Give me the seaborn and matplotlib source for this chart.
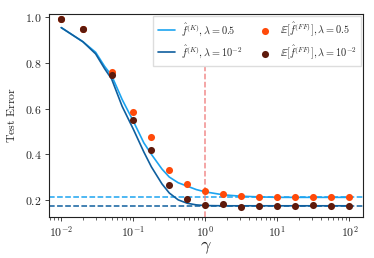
import numpy as np
import pandas as pd
import matplotlib
matplotlib.use("Agg")
import matplotlib.pyplot as plt
import seaborn as sns

# kernel curves
curve_gamma = [0.01, 0.02, 0.03, 0.04, 0.05, 0.07, 0.1, 0.14, 0.178, 0.25, 0.316,
               0.42, 0.562, 0.75, 1.0, 1.78, 3.16, 5.62, 10.0, 31.6, 100.0]
curve_lam05 = [0.955, 0.893, 0.847, 0.785, 0.745, 0.64, 0.545, 0.45, 0.40, 0.335, 0.30,
               0.275, 0.26, 0.245, 0.235, 0.222, 0.216, 0.213, 0.211, 0.211, 0.211]
curve_lam001 = [0.955, 0.893, 0.840, 0.775, 0.730, 0.61, 0.51, 0.41, 0.345, 0.27, 0.23,
                0.20, 0.185, 0.178, 0.175, 0.174, 0.174, 0.174, 0.174, 0.174, 0.174]

# random feature estimates
pts_gamma = [0.01, 0.02, 0.05, 0.1, 0.178, 0.316, 0.562, 1.0, 1.78, 3.16,
             5.62, 10.0, 17.8, 31.6, 56.2, 100.0]
pts_lam05 = [0.991, 0.949, 0.760, 0.586, 0.475, 0.332, 0.269, 0.237, 0.226, 0.218,
             0.212, 0.211, 0.211, 0.211, 0.211, 0.211]
pts_lam001 = [0.991, 0.949, 0.748, 0.550, 0.418, 0.265, 0.204, 0.178, 0.181, 0.168,
              0.172, 0.172, 0.174, 0.177, 0.174, 0.174]

limit_lam05 = 0.211
limit_lam001 = 0.174

c_light = "#1ca4f0"
c_dark = "#0f5f9e"
c_orange = "#ff4a0a"
c_brown = "#5e1a0c"

sns.set_style("ticks")
plt.rcParams["mathtext.fontset"] = "cm"
plt.rcParams["font.family"] = ["DejaVu Serif"]

fig = plt.figure(figsize=(3.74, 2.58), dpi=100)
ax = fig.add_axes([0.131, 0.159, 0.84, 0.787])

curves = pd.DataFrame({"gamma": curve_gamma, "l05": curve_lam05, "l001": curve_lam001})
pts = pd.DataFrame({"gamma": pts_gamma, "l05": pts_lam05, "l001": pts_lam001})

ax.axhline(limit_lam05, color=c_light, ls="--", lw=1.1)
ax.axhline(limit_lam001, color=c_dark, ls="--", lw=1.1)
ax.axvline(1.0, color="#f08080", ls="--", lw=1.1, alpha=0.9)

sns.lineplot(data=curves, x="gamma", y="l05", color=c_light, lw=1.2, ax=ax,
             label=r"$\hat{f}^{(K)}, \lambda = 0.5$")
sns.lineplot(data=curves, x="gamma", y="l001", color=c_dark, lw=1.2, ax=ax,
             label=r"$\hat{f}^{(K)}, \lambda = 10^{-2}$")
sns.scatterplot(data=pts, x="gamma", y="l05", color=c_orange, s=26, linewidth=0, ax=ax,
                label=r"$\mathbb{E}[\hat{f}^{(FF)}], \lambda = 0.5$", zorder=3)
sns.scatterplot(data=pts, x="gamma", y="l001", color=c_brown, s=26, linewidth=0, ax=ax,
                label=r"$\mathbb{E}[\hat{f}^{(FF)}], \lambda = 10^{-2}$", zorder=3)

ax.set_xscale("log")
ax.set_xlim(10 ** -2.17, 10 ** 2.19)
ax.set_ylim(0.125, 1.015)

xt = [0.01, 0.1, 1, 10, 100]
ax.set_xticks(xt, [r"$10^{-2}$", r"$10^{-1}$", r"$10^{0}$", r"$10^{1}$", r"$10^{2}$"])
yt = [0.2, 0.4, 0.6, 0.8, 1.0]
ax.set_yticks(yt, [f"${v:.1f}$" for v in yt])
ax.tick_params(labelsize=8.5, length=3, width=0.6, pad=2.5)
ax.tick_params(which="minor", length=1.8, width=0.5)
for sp in ax.spines.values():
    sp.set_linewidth(0.8)
    sp.set_color("#222222")

ax.set_xlabel(r"$\gamma$", fontsize=13, labelpad=-1)
ax.set_ylabel(r"$\mathrm{Test\ Error}$", fontsize=8.5, labelpad=5)

ax.legend(loc="upper right", ncol=2, fontsize=7.4, frameon=True, borderaxespad=0.2,
          handlelength=1.7, columnspacing=1.3, handletextpad=0.6, borderpad=0.45,
          labelspacing=0.55, fancybox=False, edgecolor="#dddddd", framealpha=1.0)

fig.savefig("out.png", dpi=100)
